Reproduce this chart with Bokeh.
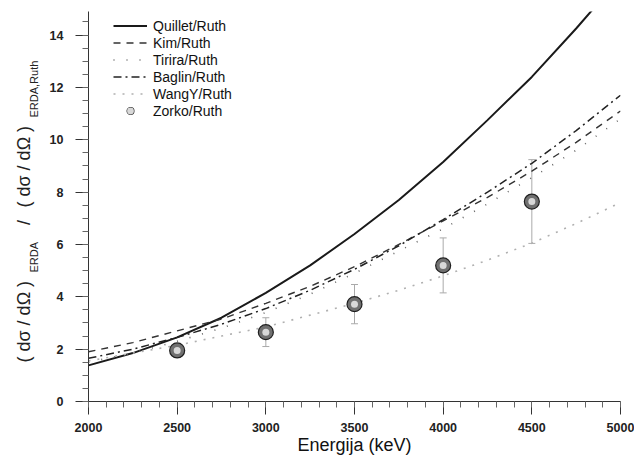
from math import pi
from bokeh.plotting import figure
from bokeh.layouts import row
from bokeh.models import (FixedTicker, Legend, LegendItem, Whisker,
                          ColumnDataSource, TeeHead, Range1d)
from bokeh.core.properties import value
from bokeh.embed import file_html
from bokeh.resources import INLINE

# ---- data ----
energy = [2000, 2250, 2500, 2750, 3000, 3250, 3500, 3750, 4000, 4250, 4500, 4750, 5000]
quillet = [1.38, 1.85, 2.45, 3.2, 4.15, 5.2, 6.4, 7.7, 9.15, 10.75, 12.4, 14.25, 16.2]
kim = [1.9, 2.25, 2.7, 3.15, 3.75, 4.4, 5.15, 6.0, 6.9, 7.8, 8.8, 9.9, 11.1]
tirira = [1.5, 1.85, 2.3, 2.8, 3.4, 4.1, 4.9, 5.75, 6.6, 7.55, 8.55, 9.6, 10.8]
baglin = [1.65, 2.0, 2.45, 2.95, 3.55, 4.25, 5.05, 5.95, 6.95, 8.0, 9.1, 10.35, 11.7]
wangy = [1.55, 1.85, 2.15, 2.5, 2.85, 3.3, 3.75, 4.25, 4.8, 5.4, 6.05, 6.8, 7.6]

zorko_e = [2500, 3000, 3500, 4000, 4500]
zorko = [1.95, 2.65, 3.72, 5.2, 7.64]
zorko_err = [0.25, 0.55, 0.75, 1.05, 1.6]

x_ticks = [2000, 2500, 3000, 3500, 4000, 4500, 5000]
y_ticks = [0, 2, 4, 6, 8, 10, 12, 14]

y_label_parts = ["( dσ / dΩ )", "ERDA", "/", "( dσ / dΩ )", "ERDA,Ruth"]

FONT = "Liberation Sans"
H = 457

# ---- main plot ----
p = figure(width=589, height=H, x_range=Range1d(2000, 5000), y_range=Range1d(0, 14.9),
           output_backend="svg", toolbar_location=None,
           min_border_left=43, min_border_right=14, min_border_top=11, min_border_bottom=56)
p.outline_line_color = None
p.grid.visible = False

r_q = p.line(energy, quillet, line_color="#1a1a1a", line_width=2)
r_k = p.line(energy, kim, line_color="#333333", line_width=1.4, line_dash="7 6")
r_t = p.line(energy, tirira, line_color="#666666", line_width=1.6, line_dash="1 12")
r_b = p.line(energy, baglin, line_color="#222222", line_width=1.5, line_dash="8 4 2 4")
r_w = p.line(energy, wangy, line_color="#b0b0b0", line_width=1.6, line_dash="2 7")

src = ColumnDataSource(dict(x=zorko_e, y=zorko,
                            up=[v + e for v, e in zip(zorko, zorko_err)],
                            lo=[v - e for v, e in zip(zorko, zorko_err)]))
wh = Whisker(base="x", upper="up", lower="lo", source=src, line_color="#aaaaaa", line_width=1,
             upper_head=TeeHead(size=7, line_color="#aaaaaa", line_width=1),
             lower_head=TeeHead(size=7, line_color="#aaaaaa", line_width=1))
p.add_layout(wh)
r_z1 = p.scatter("x", "y", source=src, size=15, fill_color="#707070", line_color="#202020", line_width=1.2)
r_z2 = p.scatter("x", "y", source=src, size=7, fill_color="#d8d8d8", line_color=None)

legend = Legend(items=[
    LegendItem(label="Quillet/Ruth", renderers=[r_q]),
    LegendItem(label="Kim/Ruth", renderers=[r_k]),
    LegendItem(label="Tirira/Ruth", renderers=[r_t]),
    LegendItem(label="Baglin/Ruth", renderers=[r_b]),
    LegendItem(label="WangY/Ruth", renderers=[r_w]),
    LegendItem(label="Zorko/Ruth", renderers=[r_z1, r_z2]),
], location=(25, 282), border_line_color=None, background_fill_alpha=0,
    padding=0, margin=0, spacing=0, label_height=17, glyph_height=17, glyph_width=34,
    label_standoff=6, label_text_font_size="14px", label_text_font=FONT, label_text_color="#111111")
p.add_layout(legend)

for ax in (p.xaxis, p.yaxis):
    ax.axis_line_color = "#333333"
    ax.major_tick_line_color = "#333333"
    ax.minor_tick_line_color = "#666666"
    ax.major_tick_in = 0
    ax.major_tick_out = 13
    ax.minor_tick_in = 0
    ax.minor_tick_out = 6
    ax.major_label_text_font = FONT
    ax.major_label_text_font_size = "12.5px"
    ax.major_label_text_font_style = "bold"
    ax.major_label_text_color = "#222222"

p.xaxis.ticker = FixedTicker(ticks=x_ticks, minor_ticks=list(range(2000, 5001, 100)))
p.yaxis.ticker = FixedTicker(ticks=y_ticks, minor_ticks=[i * 0.5 for i in range(0, 30)])
p.xaxis.major_label_standoff = 8
p.yaxis.major_label_standoff = 12
p.xaxis.axis_label = "Energija (keV)"
p.xaxis.axis_label_text_font = FONT
p.xaxis.axis_label_text_font_size = "18px"
p.xaxis.axis_label_text_font_style = "normal"
p.xaxis.axis_label_text_color = "#111111"
p.xaxis.axis_label_standoff = 0

# ---- y-axis title strip (rotated text with subscripts) ----
# the strip's frame is aligned with the main frame (390 px tall), so y here is px above the x axis
lab = figure(width=45, height=H, x_range=Range1d(0, 45), y_range=Range1d(0, 390),
             output_backend="svg", toolbar_location=None,
             x_axis_location=None, y_axis_location=None,
             min_border_left=0, min_border_right=0, min_border_top=11, min_border_bottom=56)
lab.outline_line_color = None
lab.grid.visible = False

lx = [23, 33, 23, 23, 33]
ly = [39, 129, 179, 194, 284]
lsize = ["18px", "11px", "18px", "18px", "11px"]
lalign = ["left", "left", "center", "left", "left"]
for t, x, y, s, a in zip(y_label_parts, lx, ly, lsize, lalign):
    lab.text(x=[x], y=[y], text=[t], angle=pi / 2, text_align=a, text_baseline="middle",
             text_font=value(FONT), text_font_size=s, text_color="#222222")

layout = row(lab, p)
open("out.html", "w").write(file_html(layout, INLINE))
